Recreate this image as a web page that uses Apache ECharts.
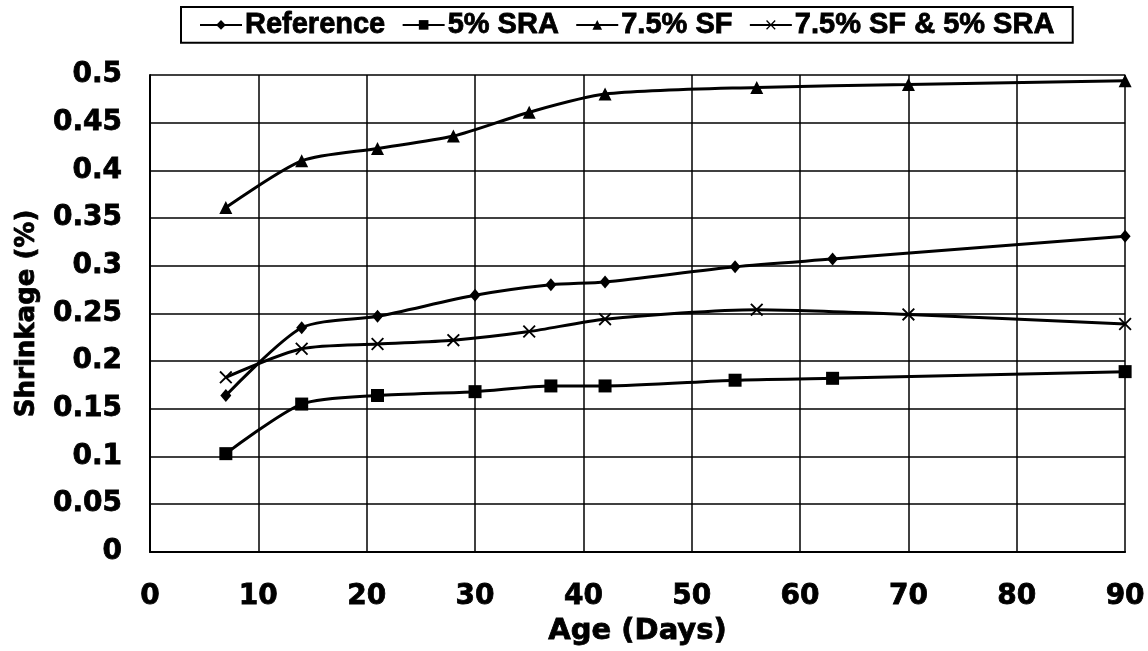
<!DOCTYPE html>
<html>
<head>
<meta charset="utf-8">
<script src="https://cdn.jsdelivr.net/npm/echarts@6/dist/echarts.min.js"></script>
<style>
html,body{margin:0;padding:0;background:#fff;}
#chart{width:1148px;height:651px;}
</style>
</head>
<body>
<div id="chart"></div>
<script>
// ---- data ----
const seriesNames = ['Reference', '5% SRA', '7.5% SF', '7.5% SF & 5% SRA'];
const daysA = [7, 14, 21, 30, 37, 42, 54, 63, 90];
const daysB = [7, 14, 21, 28, 35, 42, 56, 70, 90];
const referenceVals = [0.164, 0.235, 0.247, 0.269, 0.280, 0.283, 0.299, 0.307, 0.331];
const sraVals       = [0.103, 0.155, 0.164, 0.168, 0.174, 0.174, 0.180, 0.182, 0.189];
const sfVals        = [0.361, 0.410, 0.423, 0.436, 0.461, 0.480, 0.487, 0.490, 0.494];
const sfSraVals     = [0.183, 0.213, 0.218, 0.222, 0.231, 0.244, 0.254, 0.249, 0.239];
const xTicks = [0, 10, 20, 30, 40, 50, 60, 70, 80, 90];
const yTicks = [0, 0.05, 0.1, 0.15, 0.2, 0.25, 0.3, 0.35, 0.4, 0.45, 0.5];

const pair = (xs, ys) => xs.map((x, i) => [x, ys[i]]);
const xSymbol = 'path://M0,1L1,0L5,4L9,0L10,1L6,5L10,9L9,10L5,6L1,10L0,9L4,5Z';

const numFont = {fontFamily: 'DejaVu Sans', fontWeight: 'bold', color: '#000',
                 textBorderColor: '#000', textBorderWidth: 0.8};

function mk(name, xs, ys, symbol, size) {
  return {
    name: name, type: 'line', data: pair(xs, ys),
    smooth: 0.25, symbol: symbol, symbolSize: size, showSymbol: true,
    lineStyle: {color: '#000', width: 3},
    itemStyle: {color: '#000'},
    emphasis: {disabled: true},
    animation: false
  };
}

const chart = echarts.init(document.getElementById('chart'), null, {renderer: 'canvas'});
chart.setOption({
  backgroundColor: '#fff',
  animation: false,
  legend: {
    data: seriesNames,
    left: 181, top: 7,
    padding: [3, 18],
    itemGap: 16,
    itemWidth: 42, itemHeight: 12,
    borderColor: '#000', borderWidth: 2,
    textStyle: {fontFamily: 'Liberation Sans', fontWeight: 'bold', fontSize: 29, color: '#000',
                textBorderColor: '#000', textBorderWidth: 0.8, padding: [0, 0, 0, -2]}
  },
  grid: {left: 150, right: 19, top: 75, bottom: 98, containLabel: false},
  xAxis: {
    type: 'value', min: 0, max: 90, interval: 10,
    name: 'Age (Days)', nameLocation: 'middle', nameGap: 63,
    nameTextStyle: Object.assign({fontSize: 29}, numFont),
    axisLine: {show: true, lineStyle: {color: '#000', width: 2}},
    axisTick: {show: false},
    axisLabel: Object.assign({fontSize: 28, margin: 31, formatter: v => xTicks.includes(v) ? String(v) : ''}, numFont),
    splitLine: {show: true, lineStyle: {color: '#000', width: 1.5}}
  },
  yAxis: {
    type: 'value', min: 0, max: 0.5, interval: 0.05,
    name: 'Shrinkage (%)', nameLocation: 'middle', nameGap: 110,
    nameTextStyle: Object.assign({fontSize: 26}, numFont),
    axisLine: {show: true, lineStyle: {color: '#000', width: 2}},
    axisTick: {show: false},
    axisLabel: Object.assign({fontSize: 28, margin: 28, formatter: v => {
      const t = yTicks.find(y => Math.abs(y - v) < 1e-9);
      return t === undefined ? '' : String(t);
    }}, numFont),
    splitLine: {show: true, lineStyle: {color: '#000', width: 1.5}}
  },
  series: [
    mk(seriesNames[0], daysA, referenceVals, 'diamond', [11, 13]),
    mk(seriesNames[1], daysA, sraVals, 'rect', 13),
    mk(seriesNames[2], daysB, sfVals, 'triangle', 13),
    mk(seriesNames[3], daysB, sfSraVals, xSymbol, 13)
  ]
});
</script>
</body>
</html>
